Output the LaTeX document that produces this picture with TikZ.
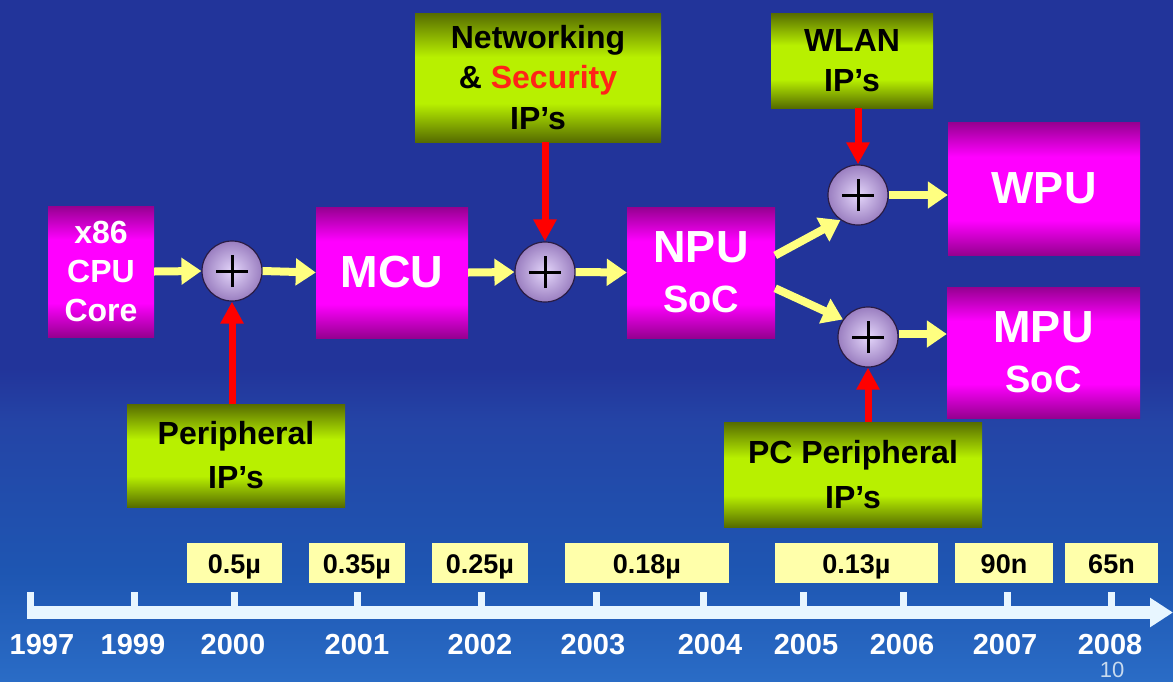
\documentclass[tikz,border=0pt]{standalone}
\usepackage{fontspec}
\setmainfont{Liberation Sans}
\usetikzlibrary{arrows.meta,calc}
\definecolor{bgT}{HTML}{22349A}
\definecolor{bgL}{HTML}{2444A6}
\definecolor{bgM}{HTML}{1E56B2}
\definecolor{bgB}{HTML}{2A6CC6}
\definecolor{magdark}{HTML}{960090}
\definecolor{magbright}{HTML}{FF00FF}
\definecolor{grdark}{HTML}{566C00}
\definecolor{grbright}{HTML}{B8F000}
\definecolor{plusin}{HTML}{E4D6FA}
\definecolor{plusout}{HTML}{9A7EC0}
\definecolor{plusedge}{HTML}{2A1C44}
\definecolor{arrowyellow}{HTML}{FFFF80}
\definecolor{arrowred}{HTML}{FF0000}
\definecolor{techyellow}{HTML}{FFFFAA}
\definecolor{timeline}{HTML}{E8F6FF}
\definecolor{secred}{HTML}{FF2418}
\definecolor{pagenum}{HTML}{C8DAEE}
% a named shading is fitted so that the path covers its 25bp..75bp band
\pgfdeclareverticalshading{bgshade}{100bp}{color(0bp)=(bgB); color(25bp)=(bgB); color(33bp)=(bgM); color(44bp)=(bgL); color(48bp)=(bgT); color(100bp)=(bgT)}
\pgfdeclareverticalshading{magshade}{100bp}{color(0bp)=(magdark); color(25bp)=(magdark); color(38bp)=(magbright); color(62bp)=(magbright); color(75bp)=(magdark); color(100bp)=(magdark)}
\pgfdeclareverticalshading{greenshade}{100bp}{color(0bp)=(grdark); color(25bp)=(grdark); color(40bp)=(grbright); color(58bp)=(grbright); color(75bp)=(grdark); color(100bp)=(grdark)}
\tikzset{
  magbox/.style={shade, shading=magshade, inner sep=0pt, align=center, text=white},
  greenbox/.style={shade, shading=greenshade, inner sep=0pt, align=center, text=black},
  plusnode/.style={circle, minimum size=60pt, inner sep=0pt, draw=plusedge, line width=1.2pt, inner color=plusin, outer color=plusout},
  plusline/.style={line width=3pt, draw=black},
  yarrow/.style={draw=arrowyellow, line width=8pt, -{Triangle[length=20pt,width=26pt]}},
  rarrow/.style={draw=arrowred, line width=7pt, -{Triangle[length=22pt,width=22pt]}},
  techbox/.style={fill=techyellow, minimum height=40pt, inner sep=0pt, text height=20pt, text depth=0pt, font=\bfseries\fontsize{27}{30}\selectfont},
  yearlabel/.style={text=white, inner sep=0pt, font=\bfseries\fontsize{29}{30}\selectfont},
  tick/.style={draw=timeline, line width=7pt},
}
\begin{document}
\begin{tikzpicture}[x=1pt,y=-1pt]
\shade[shading=bgshade] (0,0) rectangle (1173,681);
\useasboundingbox (0,0) rectangle (1173,681);

% main blocks
\node[magbox, minimum width=106pt, minimum height=131pt, font=\bfseries\fontsize{32}{39}\selectfont] (x86) at (101,271.5) {x86\\CPU\\Core};
\node[plusnode] (c1) at (232,271) {};
\node[magbox, minimum width=152pt, minimum height=131pt, font=\bfseries\fontsize{45}{50}\selectfont] (mcu) at (392,272.5) {MCU};
\node[plusnode] (c2) at (545,272) {};
\node[magbox, minimum width=148pt, minimum height=131pt, font=\bfseries\fontsize{45}{50}\selectfont] (npu) at (701,272.5) {NPU\\{\fontsize{38}{50}\selectfont SoC}};
\node[plusnode] (c3) at (858,195) {};
\node[plusnode] (c4) at (868,337) {};
\node[magbox, minimum width=192pt, minimum height=133pt, font=\bfseries\fontsize{45}{50}\selectfont] (wpu) at (1044,188.5) {WPU};
\node[magbox, minimum width=193pt, minimum height=131pt, font=\bfseries\fontsize{45}{50}\selectfont] (mpu) at (1043.5,352.5) {MPU\\{\fontsize{38}{50}\selectfont SoC}};

% IP blocks
\node[greenbox, minimum width=246pt, minimum height=129pt, font=\bfseries\fontsize{32}{40.5}\selectfont] (net) at (538,77.5) {Networking\\\& \textcolor{secred}{Security}\\IP’s};
\node[greenbox, minimum width=162pt, minimum height=95pt, font=\bfseries\fontsize{32}{40}\selectfont] (wlan) at (852,60.5) {WLAN\\IP’s};
\node[greenbox, minimum width=218pt, minimum height=103pt, font=\bfseries\fontsize{32}{44}\selectfont] (per) at (236,455.5) {Peripheral\\IP’s};
\node[greenbox, minimum width=258pt, minimum height=105pt, font=\bfseries\fontsize{32}{45}\selectfont] (pcper) at (853,474.5) {PC Peripheral\\IP’s};

% plus signs
\foreach \c in {c1,c2,c3,c4}{
  \draw[plusline] ([xshift=-16pt]\c.center) -- ([xshift=16pt]\c.center);
  \draw[plusline] ([yshift=-16pt]\c.center) -- ([yshift=16pt]\c.center);
}

% yellow flow arrows
\draw[yarrow] (x86.east) -- (c1.west);
\draw[yarrow] (c1.east) -- (mcu.west);
\draw[yarrow] (mcu.east) -- (c2.west);
\draw[yarrow] (c2.east) -- (npu.west);
\coordinate (npuA) at ($(npu.north east)!0.37!(npu.south east)$);
\coordinate (npuB) at ($(npu.north east)!0.62!(npu.south east)$);
\draw[yarrow] (npuA) -- (c3.235);
\draw[yarrow] (npuB) -- (c4.145);
\draw[yarrow] (c3.east) -- (c3.east -| wpu.west);
\draw[yarrow] ([yshift=3pt]c4.east) -- ([yshift=3pt]c4.east -| mpu.west);

% red arrows
\draw[rarrow] (net.south -| c2.north) -- (c2.north);
\draw[rarrow] (wlan.south -| c3.north) -- (c3.north);
\draw[rarrow] (per.north -| c1.south) -- (c1.south);
\draw[rarrow] (pcper.north -| c4.south) -- (c4.south);

% technology boxes
\foreach \a/\b/\t [count=\i] in {187/282/0.5µ, 309/405/0.35µ, 432/528/0.25µ, 565/729/0.18µ, 775/938/0.13µ, 955/1053/90n, 1065/1158/65n}{
  \node[techbox, minimum width={(\b-\a)*1pt}] (tech\i) at ({(\a+\b)/2},563) {\t};
}

% timeline
\coordinate (tlstart) at (27,612.5);
\coordinate (tlend) at (1173,612.5);
\draw[draw=timeline, line width=13pt, -{Triangle[length=23pt,width=28pt]}] (tlstart) -- (tlend);
\foreach \x in {30,134,234,357,481,596,703,803,903,1007,1111}{
  \draw[tick] (\x,592) -- (\x,619);
}
\foreach \x/\y [count=\i] in {42/1997,133/1999,233/2000,357/2001,480/2002,593/2003,710/2004,806/2005,902/2006,1005/2007,1110/2008}{
  \node[yearlabel] (yr\i) at (\x,645) {\y};
}
\node[text=pagenum, inner sep=0pt, font=\fontsize{22}{24}\selectfont] (page) at (1112,670) {10};
\end{tikzpicture}
\end{document}
